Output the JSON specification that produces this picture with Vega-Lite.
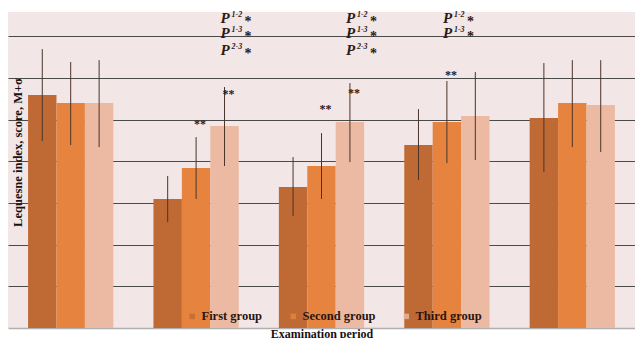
{
  "$schema": "https://vega.github.io/schema/vega-lite/v6.json",
  "width": 627,
  "height": 316,
  "autosize": {"type": "none"},
  "padding": {"left": 8, "top": 12, "right": 0, "bottom": 10},
  "background": "white",
  "config": {
    "view": {"fill": "#f3e6e6", "stroke": null},
    "font": "Liberation Serif"
  },
  "datasets": {
    "bars": [
      {"period": "P1", "series": "First group", "value": 11.18, "lo": 8.97, "hi": 13.38},
      {"period": "P1", "series": "Second group", "value": 10.79, "lo": 8.78, "hi": 12.76},
      {"period": "P1", "series": "Third group", "value": 10.79, "lo": 8.68, "hi": 12.85},
      {"period": "P2", "series": "First group", "value": 6.19, "lo": 5.08, "hi": 7.29},
      {"period": "P2", "series": "Second group", "value": 7.67, "lo": 6.19, "hi": 9.16},
      {"period": "P2", "series": "Third group", "value": 9.69, "lo": 7.77, "hi": 11.56},
      {"period": "P3", "series": "First group", "value": 6.76, "lo": 5.37, "hi": 8.2},
      {"period": "P3", "series": "Second group", "value": 7.77, "lo": 6.19, "hi": 9.35},
      {"period": "P3", "series": "Third group", "value": 9.88, "lo": 7.96, "hi": 11.75},
      {"period": "P4", "series": "First group", "value": 8.78, "lo": 7.1, "hi": 10.5},
      {"period": "P4", "series": "Second group", "value": 9.88, "lo": 7.91, "hi": 11.85},
      {"period": "P4", "series": "Third group", "value": 10.17, "lo": 8.06, "hi": 12.28},
      {"period": "P5", "series": "First group", "value": 10.07, "lo": 7.48, "hi": 12.71},
      {"period": "P5", "series": "Second group", "value": 10.79, "lo": 8.68, "hi": 12.85},
      {"period": "P5", "series": "Third group", "value": 10.7, "lo": 8.44, "hi": 12.85}
    ],
    "stars": [
      {"period": "P2", "series": "Second group", "y": 9.78, "label": "**"},
      {"period": "P2", "series": "Third group", "y": 11.22, "label": "**"},
      {"period": "P3", "series": "Second group", "y": 10.5, "label": "**"},
      {"period": "P3", "series": "Third group", "y": 11.27, "label": "**"},
      {"period": "P4", "series": "Second group", "y": 12.13, "label": "**"}
    ],
    "pvals": [
      {"period": "P2", "series": "Third group", "y": 14.87, "sup": "1-2"},
      {"period": "P2", "series": "Third group", "y": 14.15, "sup": "1-3"},
      {"period": "P2", "series": "Third group", "y": 13.33, "sup": "2-3"},
      {"period": "P3", "series": "Third group", "y": 14.87, "sup": "1-2"},
      {"period": "P3", "series": "Third group", "y": 14.15, "sup": "1-3"},
      {"period": "P3", "series": "Third group", "y": 13.33, "sup": "2-3"},
      {"period": "P4", "series": "Second group", "y": 14.87, "sup": "1-2"},
      {"period": "P4", "series": "Second group", "y": 14.15, "sup": "1-3"}
    ]
  },
  "encoding": {
    "x": {
      "field": "period",
      "type": "nominal",
      "scale": {"paddingInner": 0.32, "paddingOuter": 0.16},
      "axis": {
        "labels": false,
        "ticks": false,
        "domain": true,
        "domainColor": "#b0b0b0",
        "domainWidth": 1.5,
        "title": "Examination  period",
        "titleFont": "Liberation Serif",
        "titleFontSize": 12,
        "titleFontWeight": "bold",
        "titleColor": "#1a1010",
        "titlePadding": 0,
        "titleBaseline": "top"
      }
    },
    "xOffset": {
      "field": "series",
      "type": "nominal",
      "scale": {"domain": ["First group", "Second group", "Third group"], "paddingInner": 0, "paddingOuter": 0}
    }
  },
  "layer": [
    {
      "data": {"name": "bars"},
      "mark": {"type": "bar"},
      "encoding": {
        "y": {
          "field": "value",
          "type": "quantitative",
          "scale": {"domain": [0, 15.16], "nice": false, "zero": true},
          "axis": {
            "values": [2, 4, 6, 8, 10, 12, 14],
            "labels": false,
            "ticks": false,
            "domain": false,
            "grid": true,
            "gridColor": "#4a4a4a",
            "gridWidth": 1,
            "title": "Lequesne index, score, M+σ",
            "titleFont": "Liberation Serif",
            "titleFontSize": 12.5,
            "titleFontWeight": "bold",
            "titleColor": "#1a1010",
            "titleX": 9,
            "titleY": 140,
            "titleBaseline": "middle",
            "titleAlign": "center"
          }
        },
        "color": {
          "field": "series",
          "type": "nominal",
          "scale": {
            "domain": ["First group", "Second group", "Third group"],
            "range": ["#bf6a35", "#e6843f", "#ecbaa2"]
          },
          "legend": {
            "orient": "none",
            "legendX": 178,
            "legendY": 298,
            "direction": "horizontal",
            "title": null,
            "symbolType": "square",
            "symbolSize": 30,
            "symbolStrokeWidth": 0,
            "symbolOpacity": 0.8,
            "labelFont": "Liberation Serif",
            "labelFontSize": 12.5,
            "labelFontWeight": "bold",
            "labelColor": "#2a1510",
            "labelOffset": 3,
            "columnPadding": 24,
            "padding": 0
          }
        }
      }
    },
    {
      "data": {"name": "bars"},
      "mark": {"type": "rule", "color": "#4a3428", "strokeWidth": 1},
      "encoding": {
        "y": {"field": "lo", "type": "quantitative"},
        "y2": {"field": "hi"}
      }
    },
    {
      "data": {"name": "stars"},
      "mark": {"type": "text", "font": "Liberation Serif", "fontSize": 12, "fontWeight": "bold", "color": "#2a1a15", "dx": 4, "baseline": "middle"},
      "encoding": {
        "y": {"field": "y", "type": "quantitative"},
        "text": {"field": "label"}
      }
    },
    {
      "data": {"name": "pvals"},
      "mark": {"type": "text", "font": "Liberation Serif", "fontSize": 15, "fontWeight": "bold", "fontStyle": "italic", "color": "#2a1a15", "dx": -4, "align": "left", "baseline": "middle"},
      "encoding": {
        "y": {"field": "y", "type": "quantitative"},
        "text": {"value": "P"}
      }
    },
    {
      "data": {"name": "pvals"},
      "mark": {"type": "text", "font": "Liberation Serif", "fontSize": 8, "fontWeight": "bold", "fontStyle": "italic", "color": "#2a1a15", "dx": 7, "dy": -3, "align": "left", "baseline": "middle"},
      "encoding": {
        "y": {"field": "y", "type": "quantitative"},
        "text": {"field": "sup"}
      }
    },
    {
      "data": {"name": "pvals"},
      "mark": {"type": "text", "font": "Liberation Serif", "fontSize": 14, "fontWeight": "bold", "color": "#2a1a15", "dx": 20, "dy": 4, "align": "left", "baseline": "middle"},
      "encoding": {
        "y": {"field": "y", "type": "quantitative"},
        "text": {"value": "*"}
      }
    }
  ]
}
